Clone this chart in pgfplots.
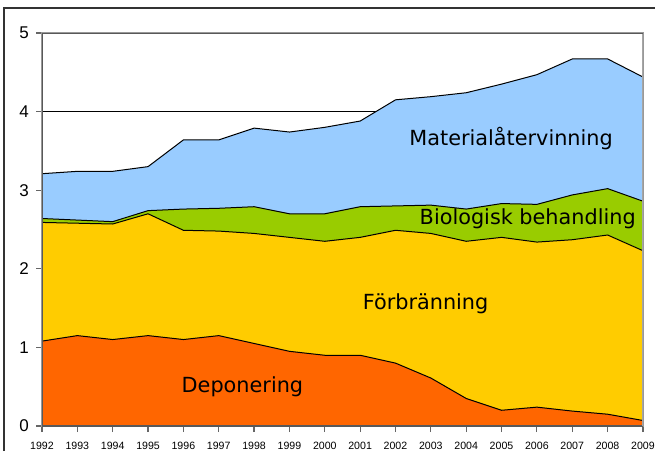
\documentclass[border=0pt]{standalone}
\usepackage{pgfplots}
\pgfplotsset{compat=1.18}
\usepackage{fontspec}
\setmainfont{Liberation Sans}
\newfontfamily\verd{DejaVu Sans}
\definecolor{cMat}{HTML}{99CCFF}
\definecolor{cBio}{HTML}{99CC00}
\definecolor{cFor}{HTML}{FFCC00}
\definecolor{cDep}{HTML}{FF6600}
\begin{document}
\begin{tikzpicture}
\useasboundingbox (0,0) rectangle (327.5pt,225.5pt);
\draw[line width=0.8pt, black!80] (2pt,0) -- (2pt,221.6pt) -- (327.5pt,221.6pt);
\begin{axis}[
  at={(21pt,12.5pt)}, anchor=south west,
  scale only axis, width=300.5pt, height=196.5pt,
  xmin=1992, xmax=2009, ymin=0, ymax=5,
  xtick={1992,...,2009}, ytick={0,1,2,3,4,5},
  ymajorgrids, grid style={black, line width=0.4pt},
  axis line style={draw=black!40, line width=0.6pt},
  tick align=outside, tick pos=left,
  major tick length=3pt,
  tick style={black!60, line width=0.6pt},
  /pgf/number format/assume math mode=true,
  xticklabel style={font=\fontsize{5.3}{6}\selectfont, /pgf/number format/1000 sep={}, yshift=-1.5pt},
  yticklabel style={font=\fontsize{8.5}{10}\selectfont},
  axis on top=false,
]
\addplot[fill=cMat, draw=none] coordinates {(1992,3.21)(1993,3.24)(1994,3.24)(1995,3.30)(1996,3.64)(1997,3.64)(1998,3.79)(1999,3.74)(2000,3.80)(2001,3.88)(2002,4.15)(2003,4.19)(2004,4.24)(2005,4.35)(2006,4.47)(2007,4.67)(2008,4.67)(2009,4.44)} \closedcycle;
\addplot[fill=cBio, draw=none] coordinates {(1992,2.64)(1993,2.62)(1994,2.60)(1995,2.74)(1996,2.76)(1997,2.77)(1998,2.79)(1999,2.70)(2000,2.70)(2001,2.79)(2002,2.80)(2003,2.81)(2004,2.76)(2005,2.83)(2006,2.82)(2007,2.94)(2008,3.02)(2009,2.86)} \closedcycle;
\addplot[fill=cFor, draw=none] coordinates {(1992,2.59)(1993,2.58)(1994,2.57)(1995,2.70)(1996,2.49)(1997,2.48)(1998,2.45)(1999,2.40)(2000,2.35)(2001,2.40)(2002,2.49)(2003,2.45)(2004,2.35)(2005,2.40)(2006,2.34)(2007,2.37)(2008,2.43)(2009,2.23)} \closedcycle;
\addplot[fill=cDep, draw=none] coordinates {(1992,1.08)(1993,1.15)(1994,1.10)(1995,1.15)(1996,1.10)(1997,1.15)(1998,1.05)(1999,0.95)(2000,0.90)(2001,0.90)(2002,0.80)(2003,0.61)(2004,0.35)(2005,0.20)(2006,0.24)(2007,0.19)(2008,0.15)(2009,0.07)} \closedcycle;
\addplot[black, line width=0.5pt, mark=none] coordinates {(1992,3.21)(1993,3.24)(1994,3.24)(1995,3.30)(1996,3.64)(1997,3.64)(1998,3.79)(1999,3.74)(2000,3.80)(2001,3.88)(2002,4.15)(2003,4.19)(2004,4.24)(2005,4.35)(2006,4.47)(2007,4.67)(2008,4.67)(2009,4.44)};
\addplot[black, line width=0.5pt, mark=none] coordinates {(1992,2.64)(1993,2.62)(1994,2.60)(1995,2.74)(1996,2.76)(1997,2.77)(1998,2.79)(1999,2.70)(2000,2.70)(2001,2.79)(2002,2.80)(2003,2.81)(2004,2.76)(2005,2.83)(2006,2.82)(2007,2.94)(2008,3.02)(2009,2.86)};
\addplot[black, line width=0.5pt, mark=none] coordinates {(1992,2.59)(1993,2.58)(1994,2.57)(1995,2.70)(1996,2.49)(1997,2.48)(1998,2.45)(1999,2.40)(2000,2.35)(2001,2.40)(2002,2.49)(2003,2.45)(2004,2.35)(2005,2.40)(2006,2.34)(2007,2.37)(2008,2.43)(2009,2.23)};
\addplot[black, line width=0.5pt, mark=none] coordinates {(1992,1.08)(1993,1.15)(1994,1.10)(1995,1.15)(1996,1.10)(1997,1.15)(1998,1.05)(1999,0.95)(2000,0.90)(2001,0.90)(2002,0.80)(2003,0.61)(2004,0.35)(2005,0.20)(2006,0.24)(2007,0.19)(2008,0.15)(2009,0.07)};
\draw[black!65, line width=0.7pt] (axis cs:1992,5) -- (axis cs:1992,0) -- (axis cs:2009,0);
\draw[black!35, line width=0.6pt] (axis cs:2009,0) -- (axis cs:2009,5);
\draw[black!65, line width=0.6pt] (axis cs:1992,5) -- (axis cs:2009,5);
\node[anchor=base, font=\verd\fontsize{10.4}{12}\selectfont] at (axis cs:2005.27,3.575) {Materialåtervinning};
\node[anchor=base, font=\verd\fontsize{10.4}{12}\selectfont] at (axis cs:2005.74,2.566) {Biologisk behandling};
\node[anchor=base, font=\verd\fontsize{10.4}{12}\selectfont] at (axis cs:2002.85,1.485) {Förbränning};
\node[anchor=base, font=\verd\fontsize{10.4}{12}\selectfont] at (axis cs:1997.67,0.43) {Deponering};
\end{axis}
\end{tikzpicture}
\end{document}
